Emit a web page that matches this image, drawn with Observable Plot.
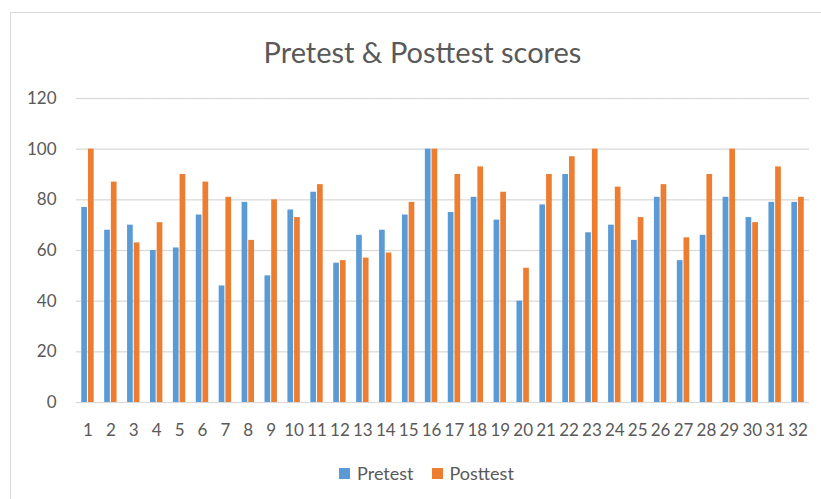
<!DOCTYPE html>
<html>
<head>
<meta charset="utf-8">
<script src="https://cdn.jsdelivr.net/npm/d3@7"></script>
<script src="https://cdn.jsdelivr.net/npm/@observablehq/plot@0.6"></script>
<style>
  html, body { margin: 0; padding: 0; background: #fff; }
  #wrap { position: relative; width: 821px; height: 499px; overflow: hidden; font-family: Lato, sans-serif; color: #595959; }
  #frame { position: absolute; left: 10px; top: 12px; width: 900px; height: 600px; border: 1.5px solid #d9d9d9; box-sizing: border-box; }
  #title { position: absolute; left: 0; width: 845px; top: 37px; text-align: center; font-size: 29px; line-height: 29px; color: #595959; }
  #chart { position: absolute; left: 0; top: 0; }
  #legend { position: absolute; top: 464px; left: 0; width: 853px; display: flex; justify-content: center; gap: 18px; font-size: 18px; line-height: 18px; }
  .item { display: flex; align-items: center; gap: 7px; }
  .sw { width: 11px; height: 11px; display: inline-block; }
</style>
</head>
<body>
<div id="wrap">
  <div id="frame"></div>
  <div id="title">Pretest &amp; Posttest scores</div>
  <div id="chart"></div>
  <div id="legend"></div>
</div>
<script>
const students = ["1","2","3","4","5","6","7","8","9","10","11","12","13","14","15","16","17","18","19","20","21","22","23","24","25","26","27","28","29","30","31","32"];
const pretest  = [77,68,70,60,61,74,46,79,50,76,83,55,66,68,74,100,75,81,72,40,78,90,67,70,64,81,56,66,81,73,79,79];
const posttest = [100,87,63,71,90,87,81,64,80,73,86,56,57,59,79,100,90,93,83,53,90,97,100,85,73,86,65,90,100,71,93,81];
const seriesNames = ["Pretest", "Posttest"];
const seriesColors = ["#5B9BD5", "#ED7D31"];
const yTicks = [0, 20, 40, 60, 80, 100, 120];

const rows = [];
students.forEach((s, i) => {
  rows.push({student: s, series: seriesNames[0], value: pretest[i]});
  rows.push({student: s, series: seriesNames[1], value: posttest[i]});
});

const plot = Plot.plot({
  width: 821,
  height: 445,
  marginTop: 98,
  marginBottom: 43,
  marginLeft: 76,
  marginRight: 12,
  style: {fontFamily: "Lato, sans-serif", fontSize: "17px", color: "#595959", background: "transparent"},
  fx: {domain: students, padding: 0, round: false, tickSize: 0, tickPadding: 21, label: null, axis: "bottom"},
  x: {domain: seriesNames, paddingInner: 0.15, paddingOuter: 0.785, round: false, axis: null},
  y: {domain: [0, 120], ticks: yTicks, tickSize: 0, tickPadding: 20, label: null},
  color: {domain: seriesNames, range: seriesColors},
  marks: [
    Plot.ruleY(yTicks, {stroke: "#d9d9d9", strokeWidth: 1.3}),
    Plot.barY(rows, {fx: "student", x: "series", y: "value", fill: "series"})
  ]
});
document.getElementById("chart").appendChild(plot);

const legend = document.getElementById("legend");
seriesNames.forEach((n, i) => {
  const it = document.createElement("div");
  it.className = "item";
  const sw = document.createElement("span");
  sw.className = "sw";
  sw.style.background = seriesColors[i];
  const t = document.createElement("span");
  t.textContent = n;
  it.appendChild(sw); it.appendChild(t);
  legend.appendChild(it);
});
</script>
</body>
</html>
